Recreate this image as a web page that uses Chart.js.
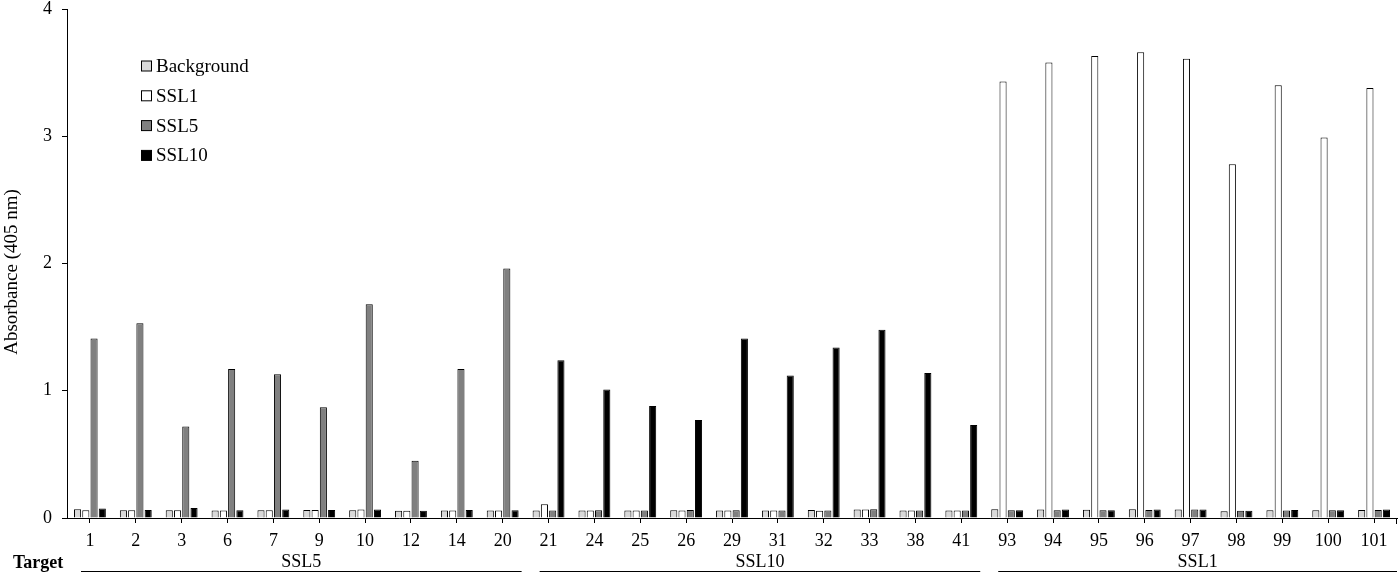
<!DOCTYPE html>
<html><head><meta charset="utf-8">
<script src="https://cdn.jsdelivr.net/npm/chart.js@4/dist/chart.umd.min.js"></script>
<style>html,body{margin:0;padding:0;background:#fff}#wrap{width:1400px;height:576px}</style>
</head><body><div id="wrap"><canvas id="c" width="1400" height="576"></canvas></div>
<script>
const categories = ['1','2','3','6','7','9','10','12','14','20','21','24','25','26','29','31','32','33','38','41','93','94','95','96','97','98','99','100','101'];
const background = [0.068,0.06,0.06,0.058,0.06,0.062,0.06,0.056,0.058,0.058,
                    0.058,0.058,0.058,0.06,0.058,0.058,0.062,0.066,0.058,0.058,
                    0.068,0.066,0.064,0.068,0.066,0.054,0.06,0.06,0.062];
const ssl1 = [0.06,0.06,0.06,0.058,0.06,0.062,0.066,0.056,0.058,0.058,
              0.108,0.058,0.058,0.058,0.058,0.058,0.056,0.066,0.058,0.058,
              3.43,3.58,3.63,3.66,3.61,2.78,3.40,2.99,3.38];
const ssl5 = [1.41,1.53,0.72,1.17,1.13,0.87,1.68,0.45,1.17,1.96,
              0.058,0.06,0.058,0.062,0.06,0.058,0.058,0.068,0.058,0.058,
              0.06,0.06,0.06,0.062,0.066,0.056,0.058,0.06,0.062];
const ssl10 = [0.074,0.062,0.078,0.06,0.066,0.062,0.066,0.056,0.062,0.06,
               1.24,1.01,0.88,0.77,1.41,1.12,1.34,1.48,1.14,0.73,
               0.06,0.066,0.06,0.066,0.066,0.056,0.062,0.06,0.066];
const seriesNames = ['Background','SSL1','SSL5','SSL10'];
const groupNames = ['SSL5','SSL10','SSL1'];
const groupSizes = [10,10,9];
const yTicks = [0,1,2,3,4];
const axisTitle = 'Absorbance (405 nm)';
const rowTitle = 'Target';

const FONT = 'Liberation Serif';
const colors = ['#d9d9d9','#ffffff','#808080','#000000'];

const overlay = {
  id: 'overlay',
  afterDraw(chart) {
    const ctx = chart.ctx;
    const xs = chart.scales.x;
    ctx.save();
    const ds = chart.data.datasets;
    ctx.font = '19px "' + FONT + '"';
    ctx.textBaseline = 'middle';
    ctx.textAlign = 'left';
    ds.forEach((d, i) => {
      const cy = 66 + i * 29.8;
      ctx.fillStyle = d.backgroundColor;
      ctx.fillRect(141.5, cy - 5, 10, 10);
      ctx.strokeStyle = '#000';
      ctx.lineWidth = 1;
      ctx.strokeRect(141.5, cy - 5, 10, 10);
      ctx.fillStyle = '#000';
      ctx.fillText(d.label, 156, cy + 1);
    });
    // y-axis title
    ctx.save();
    ctx.translate(12, 272);
    ctx.rotate(-Math.PI / 2);
    ctx.textAlign = 'center';
    ctx.font = '19px "' + FONT + '"';
    ctx.fillText(axisTitle, 0, 0);
    ctx.restore();
    ctx.strokeStyle = '#000';
    ctx.lineWidth = 1;
    ctx.beginPath();
    ctx.moveTo(Math.round(xs.right) - 0.5, chart.chartArea.bottom);
    ctx.lineTo(Math.round(xs.right) - 0.5, chart.chartArea.bottom + 6);
    ctx.stroke();
    const cw = (xs.right - xs.left) / categories.length;
    let idx = 0;
    ctx.font = '18px "' + FONT + '"';
    groupNames.forEach((g, gi) => {
      const n = groupSizes[gi];
      const left = xs.getPixelForValue(idx) - cw / 2;
      const right = xs.getPixelForValue(idx + n - 1) + cw / 2;
      const x0 = left + 14;
      const x1 = gi === groupNames.length - 1 ? right : right - 4;
      ctx.beginPath();
      ctx.moveTo(x0, 571.5);
      ctx.lineTo(x1, 571.5);
      ctx.stroke();
      ctx.textAlign = 'center';
      ctx.fillText(g, (x0 + x1) / 2, 562);
      idx += n;
    });
    ctx.font = 'bold 18px "' + FONT + '"';
    ctx.textAlign = 'left';
    ctx.fillText(rowTitle, 13, 563);
    ctx.restore();
  }
};

const seriesData = [background, ssl1, ssl5, ssl10];
new Chart(document.getElementById('c'), {
  type: 'bar',
  data: {
    labels: categories,
    datasets: seriesNames.map((n, i) => ({
      label: n,
      data: seriesData[i],
      backgroundColor: colors[i],
      borderColor: '#000',
      borderWidth: 1,
      borderSkipped: 'bottom',
      categoryPercentage: 0.72,
      barPercentage: 0.86
    }))
  },
  options: {
    responsive: false,
    devicePixelRatio: 1,
    animation: false,
    layout: { padding: { top: 9, right: 3, left: 0, bottom: 0 } },
    plugins: { legend: { display: false }, tooltip: { enabled: false } },
    scales: {
      x: {
        offset: true,
        grid: { display: true, offset: false, drawOnChartArea: false, drawTicks: true, tickLength: 5, color: '#000' },
        border: { display: true, color: '#000', width: 1 },
        ticks: { color: '#000', font: { family: FONT, size: 18 }, padding: 7, maxRotation: 0, autoSkip: false },
        afterFit(s) { s.height = 58; s.paddingLeft = 0; s.paddingRight = 0; }
      },
      y: {
        min: 0, max: 4,
        afterBuildTicks(s) { s.ticks = yTicks.map(v => ({ value: v })); },
        grid: { display: true, drawOnChartArea: false, drawTicks: true, tickLength: 5, color: '#000' },
        border: { display: true, color: '#000', width: 1 },
        ticks: { color: '#000', font: { family: FONT, size: 18, lineHeight: 1 }, padding: 10 },
        title: { display: false, text: axisTitle },
        afterFit(s) { s.width = 67; s.paddingTop = 0; s.paddingBottom = 0; }
      }
    }
  },
  plugins: [overlay]
});
</script>
</body></html>
